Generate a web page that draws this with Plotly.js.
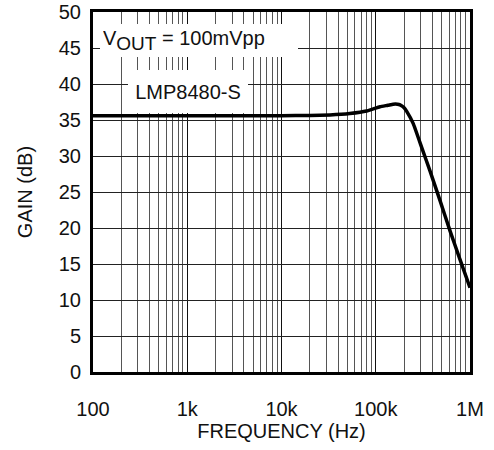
<!DOCTYPE html>
<html>
<head>
<meta charset="utf-8">
<script src="https://cdn.plot.ly/plotly-3.0.1.min.js"></script>
<style>html,body{margin:0;padding:0;background:#fff;}#chart{width:494px;height:450px;}</style>
</head>
<body>
<div id="chart"></div>
<script>
// Frequency (Hz) and gain (dB)
const frequency = [100, 1000, 10000, 20000, 32700, 53000, 80000, 111000, 135000, 153000, 170000, 181000, 200000, 213000, 250000, 307000, 377000, 481000, 614000, 784000, 1000000];
const gain      = [35.6, 35.6, 35.6, 35.62, 35.7, 35.9, 36.25, 36.85, 37.05, 37.2, 37.2, 37.1, 36.7, 36.2, 34.5, 31.2, 27.9, 23.8, 19.6, 15.6, 11.7];

const xTickVals = [100, 1000, 10000, 100000, 1000000];
const xTickText = ['100', '1k', '10k', '100k', '1M'];
const yTickVals = [0, 5, 10, 15, 20, 25, 30, 35, 40, 45, 50];

const FONT = 'Liberation Sans, Arial, sans-serif';
const TXT = '#111';

const trace = {
  x: frequency, y: gain, type: 'scatter', mode: 'lines',
  line: {color: '#000', width: 3.5, shape: 'spline', smoothing: 0.3},
  hoverinfo: 'skip', cliponaxis: true
};

const layout = {
  width: 494, height: 450,
  margin: {l: 93, r: 24, t: 12, b: 78},
  paper_bgcolor: '#fff', plot_bgcolor: '#fff',
  showlegend: false,
  font: {family: FONT, size: 20, color: TXT},
  xaxis: {
    type: 'log', range: [2, 6],
    tickvals: xTickVals, ticktext: xTickText,
    ticks: '', ticklabelstandoff: 17,
    showgrid: true, gridcolor: '#111', gridwidth: 1,
    minor: {dtick: 'D1', showgrid: true, gridcolor: '#555', gridwidth: 1, ticks: ''},
    showline: true, linecolor: '#000', linewidth: 3, mirror: true,
    zeroline: false,
    title: {text: 'FREQUENCY (Hz)', font: {family: FONT, size: 20, color: TXT}, standoff: 4},
    tickfont: {family: FONT, size: 20, color: TXT}
  },
  yaxis: {
    range: [0, 50], tickvals: yTickVals,
    ticks: '', ticklabelstandoff: 5,
    showgrid: true, gridcolor: '#222', gridwidth: 1,
    showline: true, linecolor: '#000', linewidth: 3, mirror: true,
    zeroline: false,
    title: {text: 'GAIN (dB)', font: {family: FONT, size: 20, color: TXT}, standoff: 21},
    tickfont: {family: FONT, size: 20, color: TXT}
  },
  annotations: [
    {
      xref: 'paper', yref: 'paper', x: 0.0186, y: 0.9208,
      xanchor: 'left', yanchor: 'middle',
      text: "V<sub><span style='font-size:19px'>OUT</span></sub> = 100mVpp",
      showarrow: false, align: 'left', valign: 'middle',
      width: 192, height: 27, borderpad: 3, borderwidth: 0,
      bgcolor: '#fff',
      font: {family: FONT, size: 20, color: TXT}
    },
    {
      xref: 'paper', yref: 'paper', x: 0.0928, y: 0.779,
      xanchor: 'left', yanchor: 'middle',
      text: 'LMP8480-S',
      showarrow: false, align: 'center', valign: 'middle',
      width: 120, height: 43, borderpad: 0, borderwidth: 0,
      bgcolor: '#fff',
      font: {family: FONT, size: 20, color: TXT}
    }
  ]
};

Plotly.newPlot('chart', [trace], layout, {staticPlot: true, displayModeBar: false});
</script>
</body>
</html>
